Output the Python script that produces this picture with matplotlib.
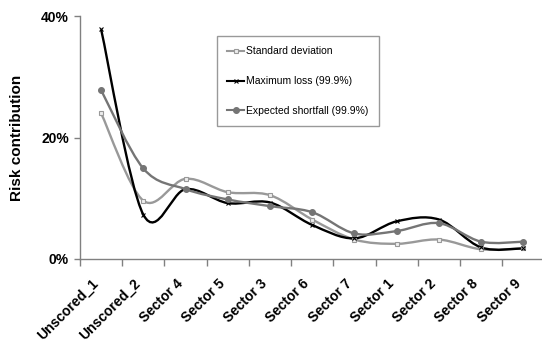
import numpy as np
import matplotlib
matplotlib.use("Agg")
import matplotlib.pyplot as plt
import matplotlib.transforms as mtransforms
from matplotlib.path import Path
from matplotlib.patches import PathPatch
from matplotlib.lines import Line2D

plt.rcParams['font.family'] = ['Liberation Sans', 'DejaVu Sans']

# categories and values (%)
categories = ["Unscored_1", "Unscored_2", "Sector 4", "Sector 5", "Sector 3",
              "Sector 6", "Sector 7", "Sector 1", "Sector 2", "Sector 8", "Sector 9"]
std_dev = [24.0, 9.6, 13.2, 11.0, 10.5, 6.5, 3.2, 2.5, 3.2, 1.6, 1.75]
max_loss = [37.8, 7.3, 11.5, 9.2, 9.3, 5.6, 3.4, 6.2, 6.5, 1.9, 1.75]
exp_shortfall = [27.8, 14.9, 11.5, 9.8, 8.7, 7.7, 4.2, 4.6, 5.9, 2.85, 2.85]


def smooth_path(x, y):
    # Excel-like smoothed line: cubic Bezier through every point
    p = np.column_stack([x, y]).astype(float)
    n = len(p)
    verts = [p[0]]
    codes = [Path.MOVETO]
    for i in range(n - 1):
        p0 = p[max(i - 1, 0)]
        p1 = p[i]
        p2 = p[i + 1]
        p3 = p[min(i + 2, n - 1)]
        verts += [p1 + (p2 - p0) / 6, p2 - (p3 - p1) / 6, p2]
        codes += [Path.CURVE4] * 3
    return Path(verts, codes)


fig = plt.figure(figsize=(5.42, 3.43), dpi=100)
ax = fig.add_axes([80 / 542, 84 / 343, 464.5 / 542, 243 / 343])

xs = np.arange(len(categories))
series = [
    (std_dev, "Standard deviation", "#999999", "s", "#eeeeee", 3.5, 1.7),
    (max_loss, "Maximum loss (99.9%)", "#000000", "x", "#000000", 3.5, 1.7),
    (exp_shortfall, "Expected shortfall (99.9%)", "#757575", "o", "#757575", 4.2, 1.7),
]
handles = []
for vals, name, col, mk, fc, ms, lw in series:
    ax.add_patch(PathPatch(smooth_path(xs, np.array(vals) / 100), facecolor="none",
                           edgecolor=col, lw=lw, zorder=2))
    ax.plot(xs, np.array(vals) / 100, ls="none", marker=mk, ms=ms, mfc=fc,
            mec=col, mew=0.8, zorder=3)
    handles.append(Line2D([], [], color=col, lw=1.5, marker=mk, ms=ms, mfc=fc,
                          mec=col, mew=0.8, label=name))

ax.set_xlim(-0.5, 10.5)
ax.set_ylim(0, 0.4)

for s in ["top", "right"]:
    ax.spines[s].set_visible(False)
for s in ["left", "bottom"]:
    ax.spines[s].set_color("#808080")
    ax.spines[s].set_linewidth(1.0)

ax.set_yticks([0, 0.2, 0.4])
ax.set_yticklabels(["0%", "20%", "40%"], fontsize=10, fontweight="bold")
ax.tick_params(axis="y", length=4, width=1, color="#808080", pad=4)

ax.set_xticks(xs)
ax.set_xticklabels(categories, fontsize=10, fontweight="bold", rotation=45,
                   ha="right", va="center", rotation_mode="anchor")
ax.tick_params(axis="x", which="major", length=0, pad=16)
ax.set_xticks(np.arange(-0.5, 11, 1), minor=True)
ax.tick_params(axis="x", which="minor", length=5, width=1, color="#808080")
shift = mtransforms.ScaledTranslation(-5 / 100, 0, fig.dpi_scale_trans)
for lab in ax.get_xticklabels():
    lab.set_transform(lab.get_transform() + shift)

ax.set_ylabel("Risk contribution", fontsize=11, fontweight="bold")
ax.yaxis.set_label_coords(-56 / 464.5, 0.5)

leg = ax.legend(handles=handles, loc="upper left",
                bbox_to_anchor=((217 - 80) / 464.5, (259 - 36) / 243),
                fontsize=7.5, frameon=True, fancybox=False, handlelength=1.6,
                handletextpad=0.2, labelspacing=1.9, borderpad=1.0,
                borderaxespad=0)
leg.get_frame().set_edgecolor("#808080")
leg.get_frame().set_linewidth(1.0)

fig.savefig("out.png", dpi=100)
